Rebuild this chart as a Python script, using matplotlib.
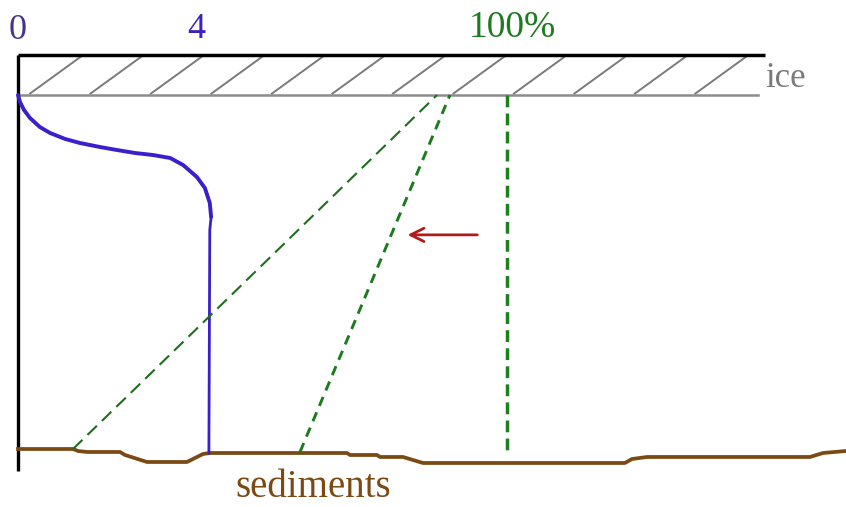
import numpy as np
import matplotlib.pyplot as plt

plt.rcParams['lines.scale_dashes'] = False
plt.rcParams['font.family'] = ['Liberation Serif', 'DejaVu Serif']

# x: percent saturation (green), blue profile has its own scale 0..4
# y: depth below the ice bottom (arbitrary units, sediments ~100)
pct_per_blue_unit = 36.4 / 4

ice_top = -11.3
ice_right = 152.8
gray_right = 151.3
axis_bottom = 105.9

blue_conc = [0, 0.045, 0.135, 0.27, 0.49, 0.72, 1.06, 1.39, 1.84, 2.22, 2.63,
             3.03, 3.42, 3.71, 4.02, 4.20, 4.31, 4.34]
blue_depth = [0, 1.97, 4.23, 6.48, 9.01, 10.70, 12.39, 13.52, 14.65, 15.49, 16.34,
              16.90, 17.75, 19.72, 23.10, 26.20, 30.42, 34.37]
blue_tail_conc = [4.34, 4.31, 4.29]
blue_tail_depth = [34.37, 38.03, 100.85]

sed_x = [0.0, 11.25, 12.27, 14.11, 20.86, 21.88, 26.38, 34.56, 37.83, 39.26, 67.28,
         67.89, 73.42, 74.03, 78.73, 82.82, 124.13, 125.56, 128.63, 161.96, 164.62, 169.33]
sed_depth = [99.72, 99.72, 100.28, 100.56, 100.56, 101.41, 103.38, 103.38, 101.13, 100.85, 100.85,
             101.41, 101.41, 101.97, 101.97, 103.66, 103.66, 102.54, 101.97, 101.97, 100.85, 100.28]

shallow_x = [11.25, 85.7]
shallow_depth = [99.72, 0]
steep_x = [57.67, 88.34]
steep_depth = [100.56, 0]
full_x = [100, 100]
full_depth = [0, 101.4]

arrow_x = [94.5, 79.1]
arrow_depth = 39.4

fig = plt.figure(figsize=(8.46, 5.07), dpi=100)
ax = fig.add_axes([0, 0, 1, 1])
ax.set_xlim(-3.681, 169.33)
ax.set_ylim(116.06, -26.76)
ax.axis('off')

# ice block with hatching
for b in 2.45 + 12.37 * np.arange(12):
    ax.plot([b, b + 10.3], [-0.4, ice_top + 0.6], color='#7a7a7a', lw=1.4)
ax.plot([0, ice_right], [ice_top, ice_top], color='black', lw=2.5, solid_capstyle='butt')
ax.plot([0, gray_right], [0, 0], color='#8c8c8c', lw=1.8)
ax.plot([0, 0], [ice_top, axis_bottom], color='black', lw=2.4, solid_capstyle='butt')

# sediments
ax.plot(sed_x, sed_depth, color='#7b4a14', lw=2.7)

# blue profile
ax.plot(np.array(blue_conc) * pct_per_blue_unit, blue_depth, color='#3a1fcc', lw=2.8,
        solid_capstyle='round')
ax.plot(np.array(blue_tail_conc) * pct_per_blue_unit, blue_tail_depth, color='#3a1fcc', lw=2.0)

# green dashed lines
ax.plot(shallow_x, shallow_depth, color='#1e6e1e', lw=1.5, dashes=(9.5, 5))
ax.plot(steep_x, steep_depth, color='#1e7a1e', lw=2.1, dashes=(7, 5))
ax.plot(full_x, full_depth, color='#1e7f1e', lw=2.5, dashes=(8.5, 4.5))

# arrow
ax.annotate('', xy=(arrow_x[1], arrow_depth), xytext=(arrow_x[0], arrow_depth),
            arrowprops=dict(arrowstyle='->', color='#b01c1c', lw=2.0,
                            mutation_scale=24))

ax.text(0, -15.8, '0', color='#46338f', fontsize=26, ha='center', va='baseline')
ax.text(4 * pct_per_blue_unit, -16.1, '4', color='#3a22c0', fontsize=26, ha='center', va='baseline')
ax.text(101, -16.3, '100%', color='#1e7a1e', fontsize=27, ha='center', va='baseline')
ax.text(152.8, -2.25, 'ice', color='#7a7a7a', fontsize=25, ha='left', va='baseline')
ax.text(44.4, 113.2, 'sediments', color='#7b4a14', fontsize=28, ha='left', va='baseline')

fig.savefig('out.png', dpi=100, facecolor='white')
